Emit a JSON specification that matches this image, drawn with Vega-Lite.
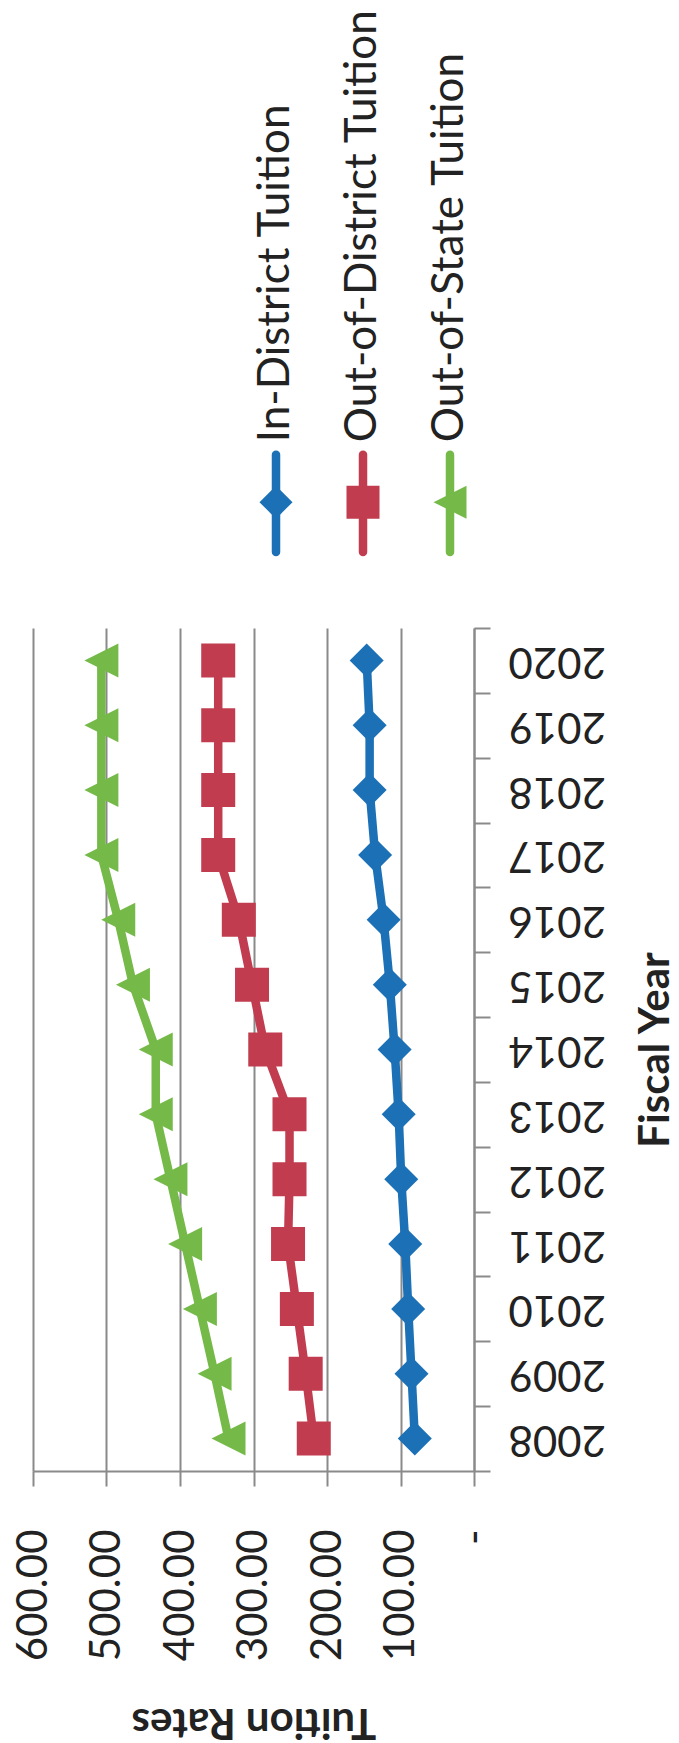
{
  "$schema": "https://vega.github.io/schema/vega-lite/v6.json",
  "padding": {"left": 12, "top": 0, "right": 0, "bottom": 0},
  "background": "white",
  "config": {"view": {"stroke": null}, "font": "Lato"},
  "spacing": 7,
  "datasets": {
    "tuition": [
      {"year": "2008", "series": "In-District Tuition", "rate": 80.5},
      {"year": "2009", "series": "In-District Tuition", "rate": 85},
      {"year": "2010", "series": "In-District Tuition", "rate": 89.5},
      {"year": "2011", "series": "In-District Tuition", "rate": 93.5},
      {"year": "2012", "series": "In-District Tuition", "rate": 99},
      {"year": "2013", "series": "In-District Tuition", "rate": 102.5},
      {"year": "2014", "series": "In-District Tuition", "rate": 108},
      {"year": "2015", "series": "In-District Tuition", "rate": 114.5},
      {"year": "2016", "series": "In-District Tuition", "rate": 123},
      {"year": "2017", "series": "In-District Tuition", "rate": 134.5},
      {"year": "2018", "series": "In-District Tuition", "rate": 142},
      {"year": "2019", "series": "In-District Tuition", "rate": 142},
      {"year": "2020", "series": "In-District Tuition", "rate": 146},
      {"year": "2008", "series": "Out-of-District Tuition", "rate": 218},
      {"year": "2009", "series": "Out-of-District Tuition", "rate": 229},
      {"year": "2010", "series": "Out-of-District Tuition", "rate": 241},
      {"year": "2011", "series": "Out-of-District Tuition", "rate": 253},
      {"year": "2012", "series": "Out-of-District Tuition", "rate": 251},
      {"year": "2013", "series": "Out-of-District Tuition", "rate": 251},
      {"year": "2014", "series": "Out-of-District Tuition", "rate": 284},
      {"year": "2015", "series": "Out-of-District Tuition", "rate": 302},
      {"year": "2016", "series": "Out-of-District Tuition", "rate": 320},
      {"year": "2017", "series": "Out-of-District Tuition", "rate": 348},
      {"year": "2018", "series": "Out-of-District Tuition", "rate": 348},
      {"year": "2019", "series": "Out-of-District Tuition", "rate": 348},
      {"year": "2020", "series": "Out-of-District Tuition", "rate": 348},
      {"year": "2008", "series": "Out-of-State Tuition", "rate": 334},
      {"year": "2009", "series": "Out-of-State Tuition", "rate": 353},
      {"year": "2010", "series": "Out-of-State Tuition", "rate": 373},
      {"year": "2011", "series": "Out-of-State Tuition", "rate": 393},
      {"year": "2012", "series": "Out-of-State Tuition", "rate": 413},
      {"year": "2013", "series": "Out-of-State Tuition", "rate": 433},
      {"year": "2014", "series": "Out-of-State Tuition", "rate": 433},
      {"year": "2015", "series": "Out-of-State Tuition", "rate": 464},
      {"year": "2016", "series": "Out-of-State Tuition", "rate": 484},
      {"year": "2017", "series": "Out-of-State Tuition", "rate": 507},
      {"year": "2018", "series": "Out-of-State Tuition", "rate": 507},
      {"year": "2019", "series": "Out-of-State Tuition", "rate": 507},
      {"year": "2020", "series": "Out-of-State Tuition", "rate": 507}
    ],
    "series": [
      {"series": "In-District Tuition"},
      {"series": "Out-of-District Tuition"},
      {"series": "Out-of-State Tuition"}
    ]
  },
  "vconcat": [
    {
      "width": 441,
      "height": 600,
      "data": {"name": "series"},
      "encoding": {
        "x": {"field": "series", "type": "nominal", "scale": {"type": "point", "range": [243, 417], "padding": 0}, "axis": null},
        "color": {"field": "series", "type": "nominal", "legend": null,
          "scale": {"domain": ["In-District Tuition", "Out-of-District Tuition", "Out-of-State Tuition"], "range": ["#1B70B6", "#C13C4F", "#75BA48"]}}
      },
      "layer": [
        {
          "mark": {"type": "rule", "strokeWidth": 8.5, "strokeCap": "round"},
          "encoding": {
            "y": {"datum": 0.8, "type": "quantitative", "scale": {"domain": [0, 10]}, "axis": null},
            "y2": {"datum": 2.42}
          }
        },
        {
          "mark": {"type": "point", "filled": true, "opacity": 1, "size": 1089},
          "encoding": {
            "y": {"datum": 1.63, "type": "quantitative"},
            "shape": {"field": "series", "type": "nominal", "legend": null,
              "scale": {"domain": ["In-District Tuition", "Out-of-District Tuition", "Out-of-State Tuition"], "range": ["M-1,0L0,-1L1,0L0,1Z", "M-1,-1L1,-1L1,1L-1,1Z", "M-1,0L1,-1L1,1Z"]}}
          }
        },
        {
          "mark": {"type": "text", "angle": 270, "align": "left", "baseline": "middle", "fontSize": 44},
          "encoding": {
            "y": {"datum": 2.63, "type": "quantitative"},
            "text": {"field": "series"},
            "color": {"value": "#222222"}
          }
        }
      ]
    },
    {
      "width": 441,
      "height": 843,
      "data": {"name": "tuition"},
      "encoding": {
        "x": {
          "field": "rate", "type": "quantitative",
          "scale": {"domain": [0, 600], "reverse": true, "nice": false, "zero": true},
          "axis": {
            "title": "Tuition Rates",
            "values": [0, 100, 200, 300, 400, 500, 600],
            "labelExpr": "datum.value == 0 ? '-\u00a0\u00a0\u00a0' : format(datum.value, '.2f')",
            "labelAngle": 270, "labelAlign": "right", "labelBaseline": "middle",
            "labelFontSize": 42, "labelColor": "#222222", "labelPadding": 43,
            "grid": true, "gridColor": "#8a8a8a", "gridWidth": 2,
            "domainColor": "#8a8a8a", "domainWidth": 2,
            "tickColor": "#8a8a8a", "tickWidth": 2, "tickSize": 15,
            "titleAngle": 180, "titleBaseline": "bottom", "titleFontSize": 42, "titleFontWeight": "bold", "titleColor": "#222222", "titlePadding": 39
          }
        },
        "y": {
          "field": "year", "type": "ordinal", "sort": "descending", "bandPosition": 0.5,
          "scale": {"type": "band", "paddingInner": 0, "paddingOuter": 0},
          "axis": {
            "orient": "right", "title": "Fiscal Year",
            "labelAngle": 180, "labelAlign": "right", "labelBaseline": "middle",
            "labelFontSize": 42, "labelColor": "#222222", "labelPadding": 18,
            "tickBand": "extent", "grid": false,
            "domainColor": "#8a8a8a", "domainWidth": 2,
            "tickColor": "#8a8a8a", "tickWidth": 2, "tickSize": 16,
            "titleAngle": 270, "titleBaseline": "top", "titleFontSize": 42, "titleFontWeight": "bold", "titleColor": "#222222", "titlePadding": 30
          }
        },
        "color": {"field": "series", "type": "nominal", "legend": null,
          "scale": {"domain": ["In-District Tuition", "Out-of-District Tuition", "Out-of-State Tuition"], "range": ["#1B70B6", "#C13C4F", "#75BA48"]}}
      },
      "layer": [
        {"mark": {"type": "line", "strokeWidth": 8.5, "strokeJoin": "round"}},
        {
          "mark": {"type": "point", "filled": true, "opacity": 1, "size": 1156},
          "encoding": {
            "shape": {"field": "series", "type": "nominal", "legend": null,
              "scale": {"domain": ["In-District Tuition", "Out-of-District Tuition", "Out-of-State Tuition"], "range": ["M-1,0L0,-1L1,0L0,1Z", "M-1,-1L1,-1L1,1L-1,1Z", "M-1,0L1,-1L1,1Z"]}}
          }
        }
      ]
    }
  ]
}
